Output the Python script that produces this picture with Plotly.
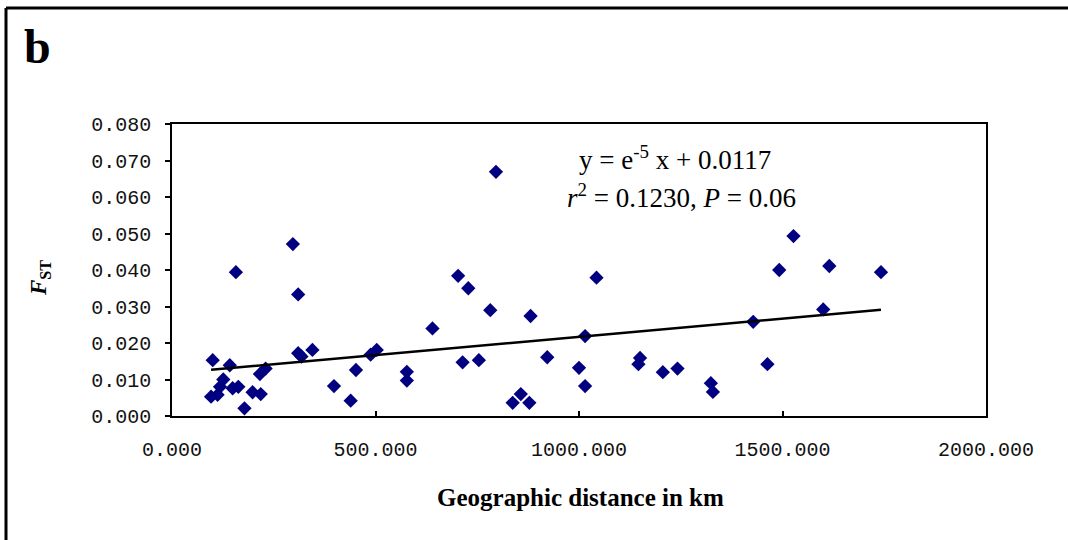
import plotly.graph_objects as go

# Geographic distance (km) and pairwise FST
distance_km = [100, 96, 112, 118, 126, 142, 149, 163, 157, 178, 198, 218, 216, 230,
               297, 310, 310, 318, 345, 398, 439, 452, 488, 503, 577, 577, 640, 703,
               728, 714, 754, 782, 796, 837, 857, 878, 881, 922, 1000, 1015, 1015,
               1043, 1150, 1146, 1206, 1242, 1324, 1329, 1428, 1463, 1492, 1527,
               1600, 1615, 1742]
fst = [0.0153, 0.0053, 0.0058, 0.0080, 0.0100, 0.0139, 0.0076, 0.0080, 0.0394, 0.0021,
       0.0065, 0.0060, 0.0115, 0.0130, 0.0471, 0.0333, 0.0172, 0.0163, 0.0181, 0.0082,
       0.0042, 0.0126, 0.0168, 0.0181, 0.0121, 0.0097, 0.0240, 0.0384, 0.0350, 0.0147,
       0.0153, 0.0290, 0.0669, 0.0036, 0.0060, 0.0036, 0.0274, 0.0161, 0.0132, 0.0219,
       0.0082, 0.0379, 0.0159, 0.0142, 0.0120, 0.0130, 0.0090, 0.0066, 0.0258, 0.0142,
       0.0400, 0.0493, 0.0292, 0.0411, 0.0394]

# Regression (as reported on the chart)
slope = 1e-5
intercept = 0.0117

x_ticks = [0, 500, 1000, 1500, 2000]
x_tick_labels = ["0.000", "500.000", "1000.000", "1500.000", "2000.000"]
y_ticks = [0, 0.01, 0.02, 0.03, 0.04, 0.05, 0.06, 0.07, 0.08]
y_tick_labels = ["0.000", "0.010", "0.020", "0.030", "0.040", "0.050", "0.060", "0.070", "0.080"]

x_line = [min(distance_km), max(distance_km)]
y_line = [slope * v + intercept for v in x_line]

W, H = 1068, 540
L, R, T, B = 172, 986, 124, 416
PW, PH = R - L, B - T


def px(xw):
    return (xw - L) / PW


def py(yw):
    return (B - yw) / PH


fig = go.Figure()
fig.add_trace(go.Scatter(
    x=distance_km, y=fst, mode="markers",
    marker=dict(symbol="diamond", size=11, color="#000080", line=dict(width=0)),
    showlegend=False, hoverinfo="x+y"))
fig.add_trace(go.Scatter(
    x=x_line, y=y_line, mode="lines",
    line=dict(color="black", width=2.5), showlegend=False))

tick_font = dict(family="Liberation Mono, DejaVu Sans Mono, monospace", size=20, color="#111111")

fig.update_layout(
    width=W, height=H,
    margin=dict(l=L, r=W - R, t=T, b=H - B, pad=0),
    paper_bgcolor="white", plot_bgcolor="white",
    xaxis=dict(range=[0, 2000], tickvals=x_ticks, ticktext=x_tick_labels,
               ticks="inside", ticklen=5, tickwidth=1.5, tickcolor="black",
               showline=True, linecolor="black", linewidth=1.5, mirror=True,
               showgrid=False, zeroline=False, tickfont=tick_font,
               ticklabelstandoff=14),
    yaxis=dict(range=[0, 0.08], tickvals=y_ticks, ticktext=y_tick_labels,
               ticks="outside", ticklen=5, tickwidth=1.5, tickcolor="black",
               showline=True, linecolor="black", linewidth=1.5, mirror=True,
               showgrid=False, zeroline=False, tickfont=tick_font,
               ticklabelstandoff=10),
)

serif = "Liberation Serif, Times New Roman, serif"

# axis titles
fig.add_annotation(text="<b>Geographic distance in km</b>", xref="paper", yref="paper",
                   x=px(580), y=py(497), xanchor="center", yanchor="middle", showarrow=False,
                   font=dict(family=serif, size=25, color="black"))
fig.add_annotation(text="<b><i>F</i><sub>ST</sub></b>", xref="paper", yref="paper",
                   x=px(40), y=py(278), xanchor="center", yanchor="middle", showarrow=False,
                   textangle=-90, font=dict(family=serif, size=23, color="black"))

# regression text
fig.add_annotation(text="y = e<sup>-5</sup> x + 0.0117", xref="paper", yref="paper",
                   x=px(577), y=py(158), xanchor="left", yanchor="middle",
                   showarrow=False, font=dict(family=serif, size=27, color="black"))
fig.add_annotation(text="<i>r</i><sup>2</sup> = 0.1230, <i>P</i> = 0.06", xref="paper", yref="paper",
                   x=px(565), y=py(196), xanchor="left", yanchor="middle",
                   showarrow=False, font=dict(family=serif, size=27, color="black"))
fig.add_annotation(text="<b>b</b>", xref="paper", yref="paper",
                   x=px(22), y=py(46), xanchor="left", yanchor="middle",
                   showarrow=False, font=dict(family=serif, size=48, color="black"))

# Outer frame (top and left edges)
fig.add_shape(type="line", xref="paper", yref="paper",
              x0=px(6), x1=px(1080), y0=py(8), y1=py(8),
              line=dict(color="black", width=3))
fig.add_shape(type="line", xref="paper", yref="paper",
              x0=px(6), x1=px(6), y0=py(8), y1=py(560),
              line=dict(color="black", width=3))

fig.write_html("out.html", config={"displayModeBar": False},
               post_script="document.body.style.margin='0px';document.body.style.overflow='hidden';")
